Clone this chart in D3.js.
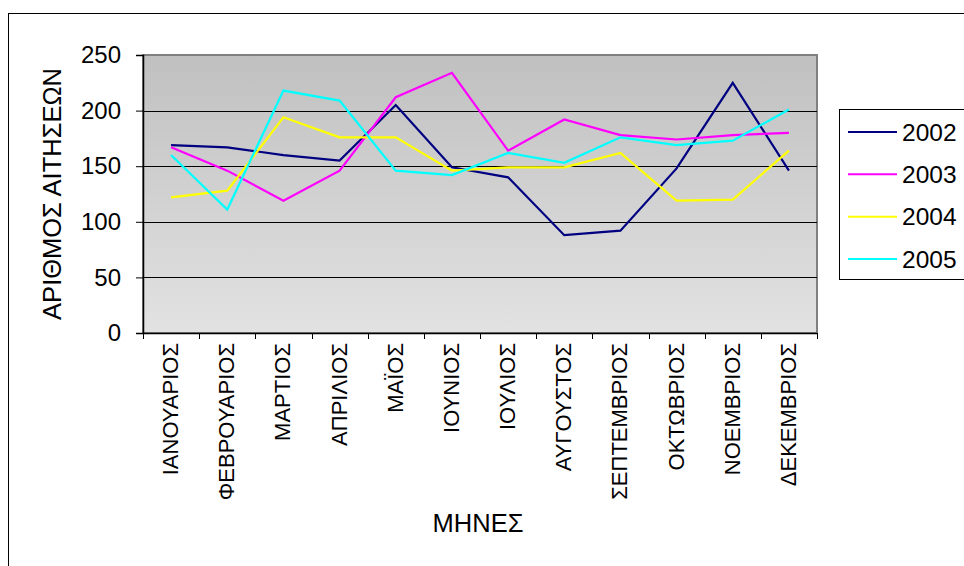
<!DOCTYPE html>
<html>
<head>
<meta charset="utf-8">
<script src="https://cdn.jsdelivr.net/npm/d3@7"></script>
<style>
  html, body { margin: 0; padding: 0; background: #fff; }
  svg { display: block; font-family: "Liberation Sans", Arial, sans-serif; }
</style>
</head>
<body>
<svg id="chart" width="964" height="566"></svg>
<script>
// Monthly number of applications per year
const months = ["ΙΑΝΟΥΑΡΙΟΣ", "ΦΕΒΡΟΥΑΡΙΟΣ", "ΜΑΡΤΙΟΣ", "ΑΠΡΙΛΙΟΣ", "ΜΑΪΟΣ", "ΙΟΥΝΙΟΣ",
                "ΙΟΥΛΙΟΣ", "ΑΥΓΟΥΣΤΟΣ", "ΣΕΠΤΕΜΒΡΙΟΣ", "ΟΚΤΩΒΡΙΟΣ", "ΝΟΕΜΒΡΙΟΣ", "ΔΕΚΕΜΒΡΙΟΣ"];
const years = ["2002", "2003", "2004", "2005"];
const values2002 = [169, 167, 160, 155, 205, 149, 140, 88, 92, 148, 225, 146];
const values2003 = [167, 146, 119, 146, 212, 234, 164, 192, 178, 174, 178, 180];
const values2004 = [122, 128, 194, 176, 176, 146, 149, 149, 162, 119, 120, 164];
const values2005 = [160, 111, 218, 209, 146, 142, 162, 153, 176, 169, 173, 201];
const yTicks = [0, 50, 100, 150, 200, 250];
const colors = ["#000080", "#ff00ff", "#ffff00", "#00ffff"];

const seriesValues = [values2002, values2003, values2004, values2005];

const svg = d3.select("#chart");
const plot = { left: 143, top: 55, right: 817, bottom: 333 };

// Chart area frame
svg.append("rect")
  .attr("x", 8.5).attr("y", 13.5)
  .attr("width", 980).attr("height", 600)
  .attr("fill", "#fff").attr("stroke", "#000").attr("stroke-width", 1);

const x = d3.scaleBand().domain(months).range([plot.left, plot.right]).padding(0);
const y = d3.scaleLinear().domain([0, 250]).range([plot.bottom, plot.top]);

// Plot background gradient
const defs = svg.append("defs");
const grad = defs.append("linearGradient")
  .attr("id", "plotBg").attr("x1", 0).attr("y1", 0).attr("x2", 0).attr("y2", 1);
grad.append("stop").attr("offset", "0%").attr("stop-color", "#c0c0c0");
grad.append("stop").attr("offset", "100%").attr("stop-color", "#e2e2e2");

svg.append("rect")
  .attr("x", plot.left).attr("y", plot.top)
  .attr("width", plot.right - plot.left).attr("height", plot.bottom - plot.top)
  .attr("fill", "url(#plotBg)")
  .attr("stroke", "#808080").attr("stroke-width", 2);

// Horizontal gridlines
svg.append("g")
  .selectAll("line")
  .data(yTicks.filter(d => d > 0 && d < 250))
  .join("line")
  .attr("x1", plot.left).attr("x2", plot.right)
  .attr("y1", d => Math.round(y(d)) + 0.5).attr("y2", d => Math.round(y(d)) + 0.5)
  .attr("stroke", "#000").attr("stroke-width", 1);

// Y axis
const yAxis = svg.append("g")
  .attr("transform", `translate(${plot.left},0)`)
  .call(d3.axisLeft(y).tickValues(yTicks).tickSize(7).tickPadding(15));
yAxis.select(".domain").attr("stroke", "#000").attr("stroke-width", 1.5);
yAxis.selectAll(".tick line").attr("stroke", "#000");
yAxis.selectAll(".tick text")
  .attr("font-size", 24).attr("fill", "#000")
  .attr("font-family", "Liberation Sans, Arial, sans-serif");

// X axis: ticks at band boundaries
const xAxisG = svg.append("g");
xAxisG.append("line")
  .attr("x1", plot.left).attr("x2", plot.right)
  .attr("y1", plot.bottom + 0.5).attr("y2", plot.bottom + 0.5)
  .attr("stroke", "#000").attr("stroke-width", 1.5);
const boundaries = months.map(m => x(m)).concat([x(months[months.length - 1]) + x.bandwidth()]);
xAxisG.selectAll("line.tk")
  .data(boundaries)
  .join("line")
  .attr("class", "tk")
  .attr("x1", d => Math.round(d) + 0.5).attr("x2", d => Math.round(d) + 0.5)
  .attr("y1", plot.bottom).attr("y2", plot.bottom + 6)
  .attr("stroke", "#000");
xAxisG.selectAll("text")
  .data(months)
  .join("text")
  .attr("transform", d => `translate(${x(d) + x.bandwidth() / 2 + 7},${plot.bottom + 10}) rotate(-90)`)
  .attr("text-anchor", "end")
  .attr("font-size", 22)
  .attr("fill", "#000")
  .text(d => d);

// Series lines
const line = d3.line()
  .x((d, i) => x(months[i]) + x.bandwidth() / 2)
  .y(d => y(d));

svg.append("g")
  .selectAll("path")
  .data(seriesValues)
  .join("path")
  .attr("d", d => line(d))
  .attr("fill", "none")
  .attr("stroke", (d, i) => colors[i])
  .attr("stroke-width", 2.2)
  .attr("stroke-linejoin", "miter");

// Axis titles
svg.append("text")
  .attr("transform", `translate(61,${(plot.top + plot.bottom) / 2}) rotate(-90)`)
  .attr("text-anchor", "middle")
  .attr("font-size", 25.5)
  .attr("fill", "#000")
  .text("ΑΡΙΘΜΟΣ ΑΙΤΗΣΕΩΝ");

svg.append("text")
  .attr("x", 478).attr("y", 532)
  .attr("text-anchor", "middle")
  .attr("font-size", 25.5)
  .attr("fill", "#000")
  .text("ΜΗΝΕΣ");

// Legend
const legend = svg.append("g");
legend.append("rect")
  .attr("x", 839.5).attr("y", 109.5)
  .attr("width", 140).attr("height", 170)
  .attr("fill", "#fff").attr("stroke", "#000").attr("stroke-width", 1);
const rowY = d3.scalePoint().domain(years).range([132, 259]);
const items = legend.selectAll("g.item")
  .data(years)
  .join("g")
  .attr("class", "item")
  .attr("transform", d => `translate(0,${rowY(d)})`);
items.append("line")
  .attr("x1", 848).attr("x2", 897)
  .attr("y1", 0).attr("y2", 0)
  .attr("stroke", (d, i) => colors[i])
  .attr("stroke-width", 2);
items.append("text")
  .attr("x", 902).attr("y", 0)
  .attr("dy", "0.36em")
  .attr("font-size", 24.5)
  .attr("fill", "#000")
  .text(d => d);
</script>
</body>
</html>
